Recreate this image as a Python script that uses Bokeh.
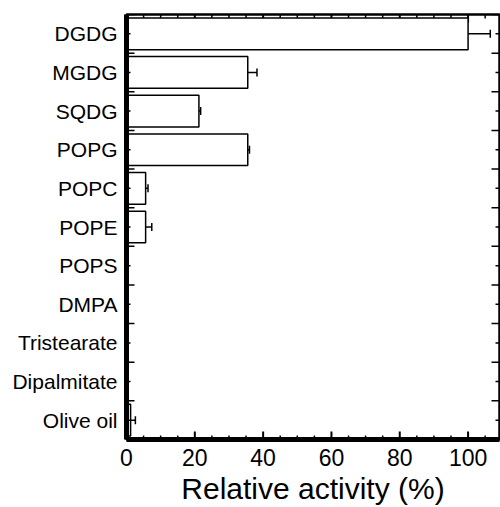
from math import pi
from bokeh.plotting import figure
from bokeh.models import (Range1d, LinearAxis, FixedTicker,
                          Whisker, TeeHead, ColumnDataSource)
from bokeh.embed import file_html
from bokeh.resources import INLINE

categories = ["DGDG", "MGDG", "SQDG", "POPG", "POPC", "POPE", "POPS", "DMPA",
              "Tristearate", "Dipalmitate", "Olive oil"]
activity = [100, 35.5, 21.2, 35.5, 5.6, 5.6, 0, 0, 0, 0, 1.2]
error = [6.5, 2.7, 0.5, 0.5, 0.7, 1.8, 0, 0, 0, 0, 1.4]
x_ticks_major = [0, 20, 40, 60, 80, 100]
x_ticks_minor = [5, 10, 15, 25, 30, 35, 45, 50, 55, 65, 70, 75, 85, 90, 95, 105]
X_MAX = 109.2

n = len(categories)
ys = [n - 0.5 - i for i in range(n)]
bounds = list(range(0, n + 1))

src = ColumnDataSource(dict(
    y=ys, v=activity,
    lower=[a - e for a, e in zip(activity, error)],
    upper=[a + e for a, e in zip(activity, error)],
))

FONT = "Liberation Sans"
W, H = 500, 507
BL, BR, BT, BB = 126, 1, 14, 64
frame_h = H - BT - BB
unit_per_px_y = n / frame_h          # converts pixel tick lengths to y units

p = figure(width=W, height=H, x_range=Range1d(0, X_MAX), y_range=Range1d(0, n),
           output_backend="svg", toolbar_location=None,
           x_axis_type=None, y_axis_type=None,
           min_border_left=BL, min_border_right=BR, min_border_top=BT, min_border_bottom=BB)
p.outline_line_color = "black"
p.outline_line_width = 2.5
p.background_fill_color = "white"
p.border_fill_color = "white"

p.hbar(y="y", right="v", left=0, height=0.82, source=src,
       fill_color="white", line_color="black", line_width=1.5)

# x tick marks pointing into the frame (bottom and top), drawn as annotations
for ticks, length, lw in ((x_ticks_major, 8, 2), (x_ticks_minor, 4, 1.5)):
    d = length * unit_per_px_y
    for lo, hi in ((0, d), (n - d, n)):
        tsrc = ColumnDataSource(dict(x=ticks, lo=[lo] * len(ticks), hi=[hi] * len(ticks)))
        p.add_layout(Whisker(base="x", lower="lo", upper="hi", dimension="height",
                             source=tsrc, line_color="black", line_width=lw,
                             lower_head=None, upper_head=None))

# y tick marks pointing into the frame (left and right)
tk = dict(length_units="screen", line_color="black")
p.ray(x=0, y=ys, length=4, angle=0, line_width=1.5, **tk)
p.ray(x=0, y=bounds, length=8, angle=0, line_width=1.5, **tk)
p.ray(x=X_MAX, y=ys, length=4, angle=pi, line_width=1.5, **tk)
p.ray(x=X_MAX, y=bounds, length=8, angle=pi, line_width=1.5, **tk)

w = Whisker(base="y", lower="lower", upper="upper", dimension="width", source=src,
            line_color="black", line_width=1.5,
            upper_head=TeeHead(size=8, line_width=1.5, line_color="black"),
            lower_head=TeeHead(size=8, line_width=1.5, line_color="black"))
p.add_layout(w)

bx = LinearAxis(ticker=FixedTicker(ticks=x_ticks_major))
bx.axis_line_width = 5
bx.major_tick_line_color = None
bx.minor_tick_line_color = None
bx.major_tick_in = 0
bx.major_tick_out = 0
bx.major_label_text_font = FONT
bx.major_label_text_font_size = "23px"
bx.major_label_text_color = "black"
bx.major_label_standoff = 9
bx.axis_label = "Relative activity (%)"
bx.axis_label_text_font = FONT
bx.axis_label_text_font_size = "30px"
bx.axis_label_text_font_style = "normal"
bx.axis_label_text_color = "black"
bx.axis_label_standoff = 3
p.add_layout(bx, "below")

ly = LinearAxis(ticker=FixedTicker(ticks=ys))
ly.axis_line_width = 5
ly.major_tick_line_color = None
ly.minor_tick_line_color = None
ly.major_tick_in = 0
ly.major_tick_out = 0
ly.major_label_overrides = {y: c for y, c in zip(ys, categories)}
ly.major_label_text_font = FONT
ly.major_label_text_font_size = "21px"
ly.major_label_text_color = "black"
ly.major_label_standoff = 9
p.add_layout(ly, "left")

open("out.html", "w").write(file_html(p, INLINE))
